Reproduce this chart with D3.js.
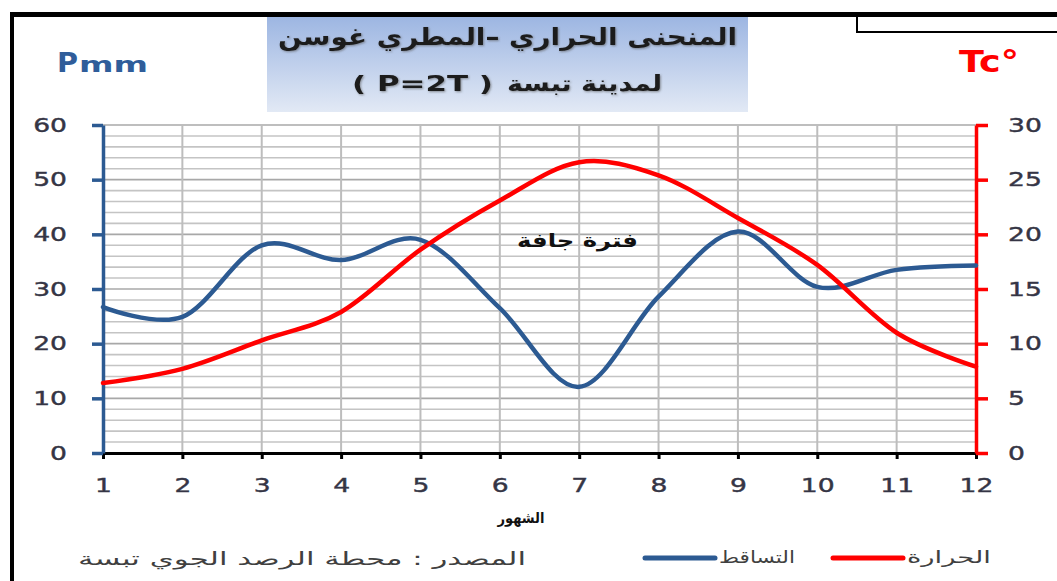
<!DOCTYPE html>
<html><head><meta charset="utf-8">
<script src="https://cdn.jsdelivr.net/npm/d3@7"></script>
<style>
html,body{margin:0;padding:0;background:#fff;}
svg{display:block;}
</style></head>
<body>
<svg id="chart" width="1057" height="581"></svg>
<script>
// ---- data ----
const months = [1,2,3,4,5,6,7,8,9,10,11,12];
const precipitation = [26.7,24.9,38.0,35.3,39.0,26.5,12.1,28.6,40.5,30.4,33.5,34.3];
const temperature = [6.4,7.7,10.3,12.9,18.6,23.1,26.6,25.4,21.5,17.2,11.0,7.9];
const precipTicks = [0,10,20,30,40,50,60];
const tempTicks = [0,5,10,15,20,25,30];
const titleLine1 = "المنحنى الحراري –المطري غوسن";
const titleLine2Ar = "لمدينة تبسة";
const titleLine2Lat = "( P=2T )";
const xTitle = "الشهور";
const dryLabel = "فترة جافة";
const legendTemp = "الحرارة";
const legendPrecip = "التساقط";
const sourceText = "المصدر : محطة الرصد الجوي تبسة";

const svg = d3.select("#chart");
const W = 1057, H = 581;
const ML = 103, MR = 976, MT = 125, MB = 453;
const SX = 1.4; // horizontal stretch of the picture's glyphs

const x = d3.scaleLinear().domain([1,12]).range([ML, MR]);
const yP = d3.scaleLinear().domain([0,60]).range([MB, MT]);
const yT = d3.scaleLinear().domain([0,30]).range([MB, MT]);

// frame
svg.append("rect").attr("x",0).attr("y",0).attr("width",W).attr("height",H).attr("fill","#fff");
svg.append("rect").attr("x",857).attr("y",14).attr("width",215).attr("height",18)
  .attr("fill","#fff").attr("stroke","#000").attr("stroke-width",2);
svg.append("line").attr("x1",10).attr("x2",W).attr("y1",14.5).attr("y2",14.5)
  .attr("stroke","#000").attr("stroke-width",5);
svg.append("line").attr("x1",12).attr("x2",12).attr("y1",12).attr("y2",H)
  .attr("stroke","#000").attr("stroke-width",4);

// title box
const defs = svg.append("defs");
const grad = defs.append("linearGradient").attr("id","tg").attr("x1",0).attr("y1",0).attr("x2",0).attr("y2",1);
grad.append("stop").attr("offset","0%").attr("stop-color","#9db6e2");
grad.append("stop").attr("offset","100%").attr("stop-color","#e2e9f5");
const shadow = defs.append("filter").attr("id","ts").attr("x","-5%").attr("y","-20%").attr("width","110%").attr("height","140%");
shadow.append("feDropShadow").attr("dx",1).attr("dy",1).attr("stdDeviation",0.8).attr("flood-color","#555").attr("flood-opacity",0.6);
svg.append("rect").attr("x",267).attr("y",17).attr("width",481).attr("height",95).attr("fill","url(#tg)");

function fitText(sel, len){
  sel.attr("textLength", len).attr("lengthAdjust","spacingAndGlyphs");
  return sel;
}
function titleText(tx, cx, cy, size, len, dir){
  return fitText(svg.append("text").attr("x",cx).attr("y",cy).attr("text-anchor","middle")
    .attr("direction",dir).attr("filter","url(#ts)")
    .attr("font-family","DejaVu Sans").attr("font-weight","bold").attr("font-size",size)
    .attr("fill","#1c1c1c").text(tx), len);
}
titleText(titleLine1, 507.5, 45, 24, 459, "rtl");
titleText(titleLine2Ar, 584.5, 91, 22, 155, "rtl");
titleText(titleLine2Lat, 422.5, 91, 22, 141, "ltr");

// axis unit titles
fitText(svg.append("text").attr("x",57).attr("y",72)
  .attr("font-family","DejaVu Sans").attr("font-weight","bold").attr("font-size",27)
  .attr("fill","#2f5d9a").text("P"), 21);
fitText(svg.append("text").attr("x",79).attr("y",72)
  .attr("font-family","DejaVu Sans").attr("font-weight","bold").attr("font-size",21)
  .attr("fill","#2f5d9a").text("mm"), 69);
fitText(svg.append("text").attr("x",959).attr("y",72)
  .attr("font-family","DejaVu Sans").attr("font-weight","bold").attr("font-size",30)
  .attr("fill","#ff0000").text("Tc°"), 60);

// gridlines
const gridVals = d3.range(2, 61, 2);
svg.append("g").selectAll("line").data(gridVals).join("line")
  .attr("x1",ML).attr("x2",MR)
  .attr("y1",d=>yP(d)).attr("y2",d=>yP(d))
  .attr("stroke",d=> d%10===0 ? "#a8a8a8" : "#c4c4c4").attr("stroke-width",1.6);
svg.append("g").selectAll("line").data(months.slice(1,-1)).join("line")
  .attr("x1",d=>x(d)).attr("x2",d=>x(d))
  .attr("y1",MT).attr("y2",MB)
  .attr("stroke","#bdbdbd").attr("stroke-width",2);

// axes
const labelColor = "#353545";
// bottom axis
const gx = svg.append("g").attr("transform",`translate(0,${MB})`)
  .call(d3.axisBottom(x).tickValues(months).tickFormat(d3.format("d")).tickSize(6).tickPadding(20).tickSizeOuter(0));
gx.select(".domain").attr("stroke","#000").attr("stroke-width",3);
gx.selectAll(".tick line").attr("stroke","#000").attr("stroke-width",3);
gx.selectAll("text").attr("font-family","DejaVu Sans").attr("font-size",19).attr("fill",labelColor)
  .attr("stroke",labelColor).attr("stroke-width",0.4)
  .attr("transform",`scale(${SX},1)`);

// left axis
const gl = svg.append("g").attr("transform",`translate(${ML},0)`)
  .call(d3.axisLeft(yP).tickValues(precipTicks).tickSize(11).tickPadding(25).tickSizeOuter(0));
gl.select(".domain").attr("stroke","#2c5a92").attr("stroke-width",3.5);
gl.selectAll(".tick line").attr("stroke","#2c5a92").attr("stroke-width",3.5);
gl.selectAll("text").attr("font-family","DejaVu Sans").attr("font-size",19).attr("fill",labelColor)
  .attr("stroke",labelColor).attr("stroke-width",0.4)
  .attr("x", -36/SX).attr("transform",`scale(${SX},1)`);

// right axis
const gr = svg.append("g").attr("transform",`translate(${MR},0)`)
  .call(d3.axisRight(yT).tickValues(tempTicks).tickSize(12).tickPadding(20).tickSizeOuter(0));
gr.select(".domain").attr("stroke","#ff0000").attr("stroke-width",3.5);
gr.selectAll(".tick line").attr("stroke","#ff0000").attr("stroke-width",3.5);
gr.selectAll("text").attr("font-family","DejaVu Sans").attr("font-size",19).attr("fill",labelColor)
  .attr("stroke",labelColor).attr("stroke-width",0.4)
  .attr("x", 32/SX).attr("transform",`scale(${SX},1)`);

// lines
const curve = d3.curveCardinal.tension(0);
const lineP = d3.line().x((d,i)=>x(months[i])).y(d=>yP(d)).curve(curve);
const lineT = d3.line().x((d,i)=>x(months[i])).y(d=>yT(d)).curve(curve);
svg.append("path").datum(precipitation).attr("d",lineP)
  .attr("fill","none").attr("stroke","#2c5a92").attr("stroke-width",4.5).attr("stroke-linecap","round");
svg.append("path").datum(temperature).attr("d",lineT)
  .attr("fill","none").attr("stroke","#ff0000").attr("stroke-width",4.5).attr("stroke-linecap","round");

// annotations
fitText(svg.append("text").attr("x",577.5).attr("y",247).attr("text-anchor","middle")
  .attr("direction","rtl")
  .attr("font-family","DejaVu Sans").attr("font-weight","bold").attr("font-size",19)
  .attr("fill","#111").text(dryLabel), 121);
fitText(svg.append("text").attr("x",521).attr("y",523).attr("text-anchor","middle")
  .attr("direction","rtl")
  .attr("font-family","DejaVu Sans").attr("font-weight","bold").attr("font-size",15)
  .attr("fill","#111").text(xTitle), 47);

// legend
svg.append("line").attr("x1",833).attr("x2",903).attr("y1",558).attr("y2",558)
  .attr("stroke","#ff0000").attr("stroke-width",5).attr("stroke-linecap","round");
fitText(svg.append("text").attr("x",949).attr("y",563).attr("text-anchor","middle")
  .attr("direction","rtl")
  .attr("font-family","DejaVu Sans").attr("font-size",17)
  .attr("fill","#404040").text(legendTemp), 84);
svg.append("line").attr("x1",645).attr("x2",715).attr("y1",558).attr("y2",558)
  .attr("stroke","#2c5a92").attr("stroke-width",5).attr("stroke-linecap","round");
fitText(svg.append("text").attr("x",757).attr("y",563).attr("text-anchor","middle")
  .attr("direction","rtl")
  .attr("font-family","DejaVu Sans").attr("font-size",17)
  .attr("fill","#404040").text(legendPrecip), 76);
fitText(svg.append("text").attr("x",302).attr("y",565).attr("text-anchor","middle")
  .attr("direction","rtl")
  .attr("font-family","DejaVu Sans").attr("font-size",18)
  .attr("fill","#404040").text(sourceText), 448);
</script>
</body></html>
